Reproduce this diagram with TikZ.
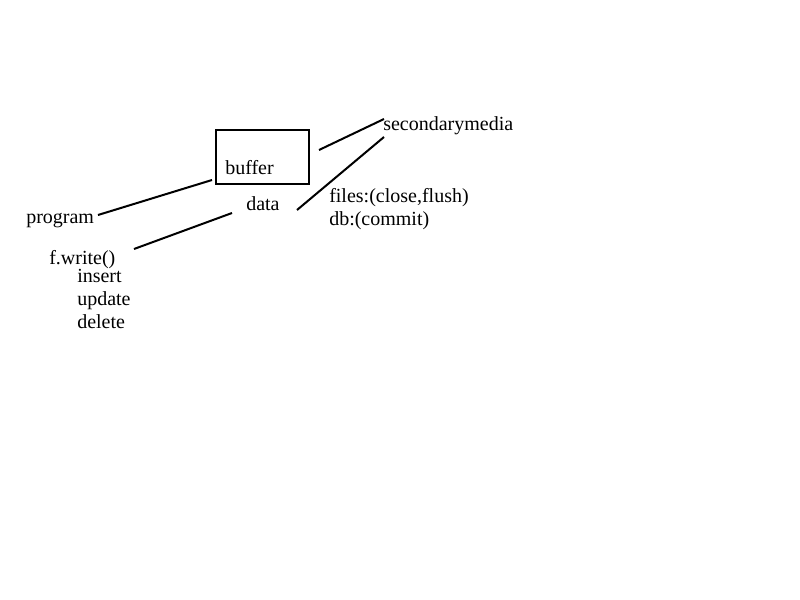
\documentclass[tikz,border=0pt]{standalone}
\usepackage{fontspec}
\setmainfont{Liberation Serif}
\begin{document}
\begin{tikzpicture}[x=0.75pt,y=-0.75pt,
  lbl/.style={inner sep=0pt,anchor=base west,font=\fontsize{15}{17}\selectfont},
  ln/.style={line width=1.5pt}]
\useasboundingbox (0,0) rectangle (800,600);
\node[draw,line width=1.5pt,minimum width=93*0.75pt,minimum height=54*0.75pt,inner sep=0pt] (box) at (262.5,157) {};
\node[lbl] (buffer) at (225,174) {buffer};
\node[lbl] (sec) at (383,130) {secondarymedia};
\node[lbl] (files) at (329,202) {files:(close,flush)};
\node[lbl] (db) at (329,225) {db:(commit)};
\node[lbl] (data) at (246,210) {data};
\node[lbl] (program) at (26,223) {program};
\node[lbl] (fwrite) at (49,264) {f.write()};
\node[lbl] (insert) at (77,282) {insert};
\node[lbl] (update) at (77,305) {update};
\node[lbl] (delete) at (77,328) {delete};
\coordinate (p1) at (98,215);
\coordinate (p2) at (212,180);
\coordinate (f1) at (134,249);
\coordinate (f2) at (232,213);
\coordinate (b1) at (319,150);
\coordinate (s1) at (384,119);
\coordinate (d1) at (297,210);
\coordinate (s2) at (384,137);
\draw[ln] (p1) -- (p2);
\draw[ln] (f1) -- (f2);
\draw[ln] (b1) -- (s1);
\draw[ln] (d1) -- (s2);
\end{tikzpicture}
\end{document}
